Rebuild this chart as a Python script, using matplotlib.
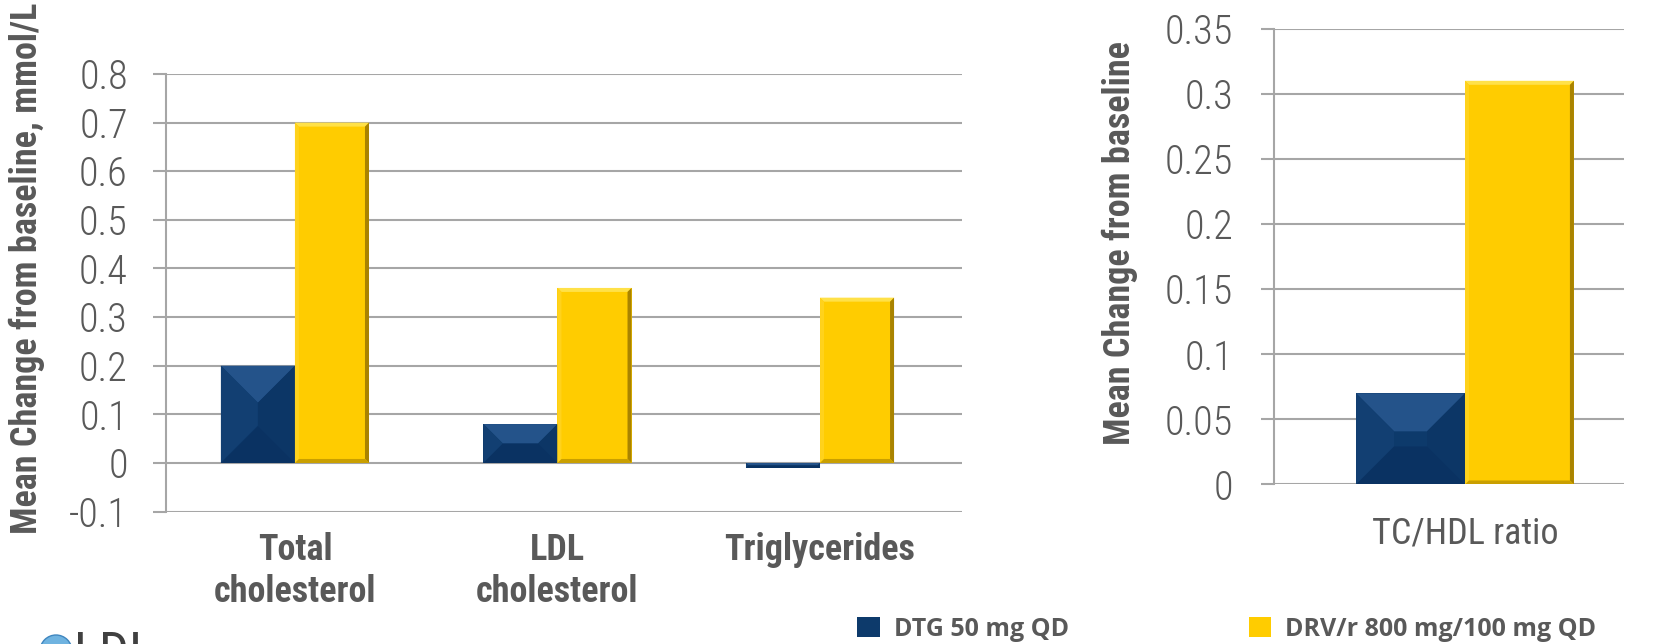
import matplotlib.pyplot as plt
from matplotlib import font_manager as fm
from matplotlib.patches import Ellipse, Polygon
import numpy as np

# data
lipid_cats = ['Total\ncholesterol', 'LDL\ncholesterol', 'Triglycerides']
dtg_lipids = [0.20, 0.08, -0.01]
drv_lipids = [0.70, 0.36, 0.34]

ratio_cats = ['TC/HDL ratio']
dtg_ratio = [0.07]
drv_ratio = [0.31]

left_ticks = [-0.1, 0, 0.1, 0.2, 0.3, 0.4, 0.5, 0.6, 0.7, 0.8]
left_ticklabels = ['-0.1', '0', '0.1', '0.2', '0.3', '0.4', '0.5', '0.6', '0.7', '0.8']
right_ticks = [0, 0.05, 0.1, 0.15, 0.2, 0.25, 0.3, 0.35]
right_ticklabels = ['0', '0.05', '0.1', '0.15', '0.2', '0.25', '0.3', '0.35']

series_names = ['DTG 50 mg QD', 'DRV/r 800 mg/100 mg QD']

BLUE = '#0d3a6b'
YELLOW = '#ffcc00'
GRID = '#a6a6a6'
TXT = '#595959'
# bevel shades: top, left, right, bottom
BLUE_BEVEL = ['#24538a', '#123f72', '#0c3666', '#0a3262']
YELLOW_BEVEL = ['#ffe148', '#ffd21c', '#a98300', '#c99f00']

# pick a narrow font if there is one
installed = {f.name for f in fm.fontManager.ttflist}
NARROW = 'DejaVu Sans'
for cand in ['Liberation Sans Narrow', 'Roboto Condensed', 'Arial Narrow',
             'Open Sans Condensed', 'DejaVu Sans Condensed']:
    if cand in installed:
        NARROW = cand
        break


def nfont(size, weight='normal'):
    return fm.FontProperties(family=[NARROW, 'DejaVu Sans'], size=size,
                             weight=weight, stretch='condensed')


fig = plt.figure(figsize=(16.57, 6.44), dpi=100)


def style_axis(ax, ticks, labels, pad_y, pad_x):
    for s in ['top', 'right', 'bottom']:
        ax.spines[s].set_visible(False)
    ax.spines['left'].set_color(GRID)
    ax.spines['left'].set_linewidth(1.5)
    ax.set_yticks(ticks)
    ax.set_yticklabels(labels, fontproperties=nfont(29, 'light'), color=TXT)
    ax.tick_params(axis='y', length=9.5, width=1.5, color=GRID, pad=pad_y)
    ax.tick_params(axis='x', length=0, pad=pad_x)
    ax.yaxis.grid(True, color=GRID, linewidth=1.5)
    ax.set_axisbelow(True)


def bevel(ax, rect, depth, shades):
    # split the bar into four bevel faces, depth given in pixels
    x0, y0 = rect.get_x(), min(rect.get_y(), rect.get_y() + rect.get_height())
    x1, y1 = x0 + rect.get_width(), max(rect.get_y(), rect.get_y() + rect.get_height())
    to_px = ax.transData
    to_data = ax.transData.inverted()
    (px0, py0), (px1, py1) = to_px.transform([(x0, y0), (x1, y1)])
    d = min(depth, (px1 - px0) / 2, (py1 - py0) / 2)
    outer = [(px0, py1), (px1, py1), (px1, py0), (px0, py0)]
    inner = [(px0 + d, py1 - d), (px1 - d, py1 - d), (px1 - d, py0 + d), (px0 + d, py0 + d)]
    faces = [
        [outer[0], outer[1], inner[1], inner[0]],  # top
        [outer[0], inner[0], inner[3], outer[3]],  # left
        [outer[1], outer[2], inner[2], inner[1]],  # right
        [outer[3], inner[3], inner[2], outer[2]],  # bottom
    ]
    for pts, c in zip(faces, shades):
        ax.add_patch(Polygon(to_data.transform(pts), closed=True, facecolor=c,
                             edgecolor='none', zorder=4))


def draw_bars(ax, x, v1, v2, w):
    b1 = ax.bar(x - w / 2, v1, w, color=BLUE, linewidth=0,
                label=series_names[0], zorder=3)
    b2 = ax.bar(x + w / 2, v2, w, color=YELLOW, linewidth=0,
                label=series_names[1], zorder=3)
    return b1, b2


def add_bevels(ax, b1, b2):
    for r in b1:
        bevel(ax, r, 38, BLUE_BEVEL)
    for r in b2:
        bevel(ax, r, 4, YELLOW_BEVEL)


# left panel
ax1 = fig.add_axes([0.1002, 0.2056, 0.4804, 0.6795])
x1 = np.arange(len(lipid_cats))
h1, h2 = draw_bars(ax1, x1, dtg_lipids, drv_lipids, 0.282)
ax1.set_xlim(-0.491, 2.541)
ax1.set_ylim(-0.1, 0.8)
style_axis(ax1, left_ticks, left_ticklabels, 18, 15)
ax1.set_xticks(x1)
ax1.set_xticklabels(lipid_cats, fontproperties=nfont(26, 'bold'),
                    color=TXT, linespacing=1.2, va='top')
add_bevels(ax1, h1, h2)

# right panel
ax2 = fig.add_axes([0.7689, 0.2477, 0.2112, 0.7077])
x2 = np.arange(len(ratio_cats))
g1, g2 = draw_bars(ax2, x2, dtg_ratio, drv_ratio, 0.3)
ax2.set_xlim(-0.526, 0.438)
ax2.set_ylim(0, 0.35)
style_axis(ax2, right_ticks, right_ticklabels, 20, 22)
ax2.set_xticks(x2)
ax2.set_xticklabels(ratio_cats, fontproperties=nfont(26), color=TXT)
add_bevels(ax2, g1, g2)

# y labels
fig.text(0.0165, 1 - 534 / 644, 'Mean Change from baseline, mmol/L', rotation=90,
         ha='center', va='bottom', fontproperties=nfont(26, 'bold'), color=TXT)
fig.text(0.676, 1 - 243 / 644, 'Mean Change from baseline', rotation=90,
         ha='center', va='center', fontproperties=nfont(26, 'bold'), color=TXT)

# legend at the bottom
fig.legend(handles=[h1, h2], labels=series_names, loc='center left',
           bbox_to_anchor=(857 / 1657, 1 - 629 / 644), ncol=2, frameon=False,
           handlelength=0.9, handleheight=0.9, handletextpad=0.56, columnspacing=7.2,
           prop={'family': ['Open Sans', 'DejaVu Sans'], 'weight': 'bold', 'size': 18},
           labelcolor=TXT, borderaxespad=0, borderpad=0)

# cut-off bullet text at the bottom left
fig.patches.append(Ellipse((56 / 1657, 1 - 651 / 644), 32 / 1657, 32 / 644,
                           transform=fig.transFigure, facecolor='#6fb3e0',
                           edgecolor='#3f86bf', linewidth=1))
fig.text(74 / 1657, 1 - 630 / 644, 'LDL', ha='left', va='top',
         fontproperties=nfont(38), color='#404040')

fig.savefig('out.png', dpi=100)
